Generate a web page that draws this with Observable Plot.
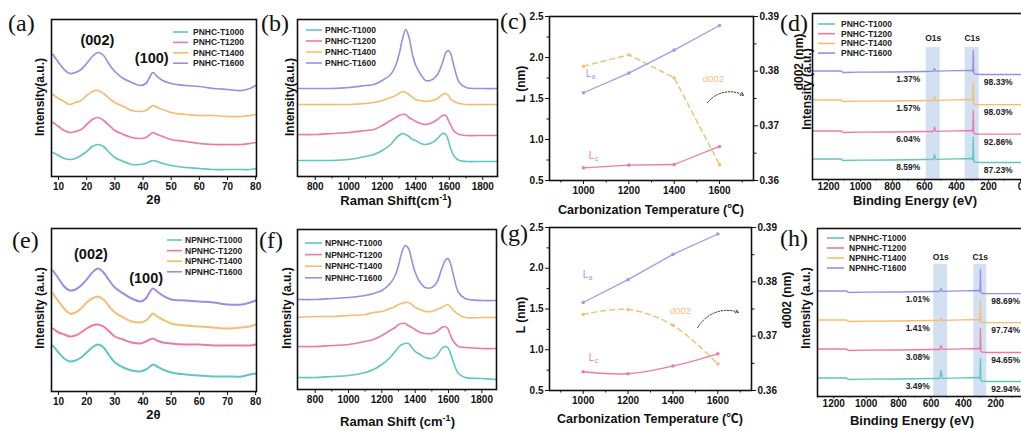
<!DOCTYPE html>
<html><head><meta charset="utf-8">
<script src="https://cdn.jsdelivr.net/npm/d3@7"></script>
<script src="https://cdn.jsdelivr.net/npm/@observablehq/plot@0.6"></script>
<style>
html,body{margin:0;padding:0;background:#fff;}
#fig{position:relative;width:1021px;height:431px;overflow:hidden;background:#fff;}
#fig svg{position:absolute;}
</style></head><body><div id="fig"></div>
<script>
// ---------------- DATA ----------------
const pLabels = ["PNHC-T1000","PNHC-T1200","PNHC-T1400","PNHC-T1600"];
const nLabels = ["NPNHC-T1000","NPNHC-T1200","NPNHC-T1400","NPNHC-T1600"];

// XRD (2θ) — stacked intensities (a.u.)
const xrdX = [8,10,12,14,16,18,20,22,24,26,28,30,33,36,39,41,42.5,43.5,45,47,50,55,60,65,70,75,78,80];
const aT1000 = [24,21,18,17,18,21,25,30,32,30,24,19,15,12,12,13,15,16,15,13,11,9,8,7,7,7,7,8];
const aT1200 = [54,50,46,44,45,47,52,57,59,56,51,46,42,39,38,39,42,44,42,40,37,35,33,32,32,32,33,34];
const aT1400 = [82,78,75,72,74,76,81,85,86,83,78,74,70,66,65,66,69,71,69,67,64,62,61,61,60,60,61,62];
const aT1600 = [122,114,107,103,104,107,113,120,124,121,112,105,98,94,91,93,100,104,100,96,93,91,90,88,87,86,88,91];
const eT1000 = [46,39,33,30,31,34,39,44,47,44,36,29,24,21,20,22,25,27,25,22,19,17,16,15,15,15,17,18];
const eT1200 = [63,59,57,55,56,59,63,66,67,65,60,55,52,49,48,50,52,53,51,49,48,47,47,46,46,46,46,47];
const eT1400 = [98,90,83,78,79,83,89,93,95,92,85,79,74,70,69,71,75,78,75,72,68,66,65,64,63,64,65,67];
const eT1600 = [121,113,105,101,102,106,112,119,123,119,111,104,98,93,90,93,100,103,100,96,92,91,90,89,87,87,89,91];
const xrdTicks = [10,20,30,40,50,60,70,80];

// Raman — stacked intensities (a.u.)
const ramX = [695,800,900,1000,1100,1150,1200,1250,1280,1300,1320,1340,1360,1380,1400,1430,1460,1500,1530,1560,1580,1595,1610,1630,1660,1700,1800,1890];
const bT1000 = [16,16,16,17,20,22,26,32,38,41,43,42,40,37,36,33,32,34,38,43,42,36,27,20,16,15,15,15];
const bT1200 = [42,42,43,44,46,47,51,56,59,61,62,62,59,57,55,53,52,54,57,61,61,56,51,45,42,41,41,41];
const bT1400 = [72,72,72,72,73,74,76,79,81,83,85,84,82,79,77,76,75,76,78,82,83,81,77,75,73,72,72,72];
const bT1600 = [88,88,88,89,91,92,96,102,111,122,137,147,139,122,111,102,96,97,102,114,124,126,122,109,94,89,88,88];
const fT1000 = [12,12,13,14,17,20,25,32,38,42,45,46,46,42,38,35,32,31,34,41,43,42,37,27,16,12,11,10];
const fT1200 = [43,43,44,45,48,50,54,59,62,65,66,66,64,62,60,57,56,56,58,62,63,61,55,48,43,42,41,41];
const fT1400 = [72,73,73,74,75,77,78,81,83,85,86,87,87,85,82,80,78,78,80,82,84,85,83,79,75,72,72,72];
const fT1600 = [90,90,91,92,94,96,99,106,114,124,137,144,141,129,117,107,102,102,107,121,129,131,127,114,97,91,89,89];
const ramTicks = [800,1000,1200,1400,1600,1800];

// Crystallite size / d002
const temps = [1000,1200,1400,1600];
const cLa = [1.57,1.81,2.09,2.39];
const cLc = [0.655,0.687,0.695,0.915];
const cD002 = [0.3809,0.3830,0.3788,0.3629];
const gLa = [1.58,1.86,2.17,2.42];
const gLc = [0.73,0.705,0.80,0.95];
const gD002 = [0.3740,0.3749,0.3720,0.3649];
const lTicks = [0.5,1.0,1.5,2.0,2.5];
const dTicks = [0.36,0.37,0.38,0.39];

// XPS survey — stacked intensities (a.u.)
const xpsX = [1300,1120,1110,1000,800,600,545,538,530,400,305,298,295,292,285,250,150,0,-30];
const dT1000 = [20.5,20.5,19,19.3,19.5,20,20,25,20.2,20.6,21,20,42,18,17.3,17,17,17,17];
const dT1200 = [48.5,48.5,47,47.3,47.5,48,48,52.5,48.2,48.6,49,48,69,46,45.5,45.3,45.3,45.3,45.3];
const dT1400 = [79.5,79.5,78,78.3,78.5,79,79,83,79.2,79.6,80,79,97,76,75,74.8,74.8,74.8,74.8];
const dT1600 = [108.5,108.5,107,107.3,107.5,108,108.2,111,108.3,108.8,109.2,108,129,106.5,105.5,105,105,105,105];
const hT1000 = [18.5,18.5,17,17.3,17.5,18,18,26,18.2,18.6,19,18,38,16,15.3,15,15,15,15];
const hT1200 = [47.5,47.5,46,46.3,46.5,47,47,51,47.2,47.6,48,47,68,45,44.3,44,44,44,44];
const hT1400 = [76.5,76.5,75,75.3,75.5,76,76,78,76.2,76.6,77,76,96,74.5,74,73.8,73.8,73.8,73.8];
const hT1600 = [105.5,105.5,104,104.3,104.5,105,105,108,105.2,105.6,106,105,127,103.5,103,102.8,102.8,102.8,102.8];
const dO1s = ["8.59%","6.04%","1.57%","1.37%"];
const dC1s = ["87.23%","92.86%","98.03%","98.33%"];
const hO1s = ["3.49%","3.08%","1.41%","1.01%"];
const hC1s = ["92.94%","94.65%","97.74%","98.69%"];
const dBands = [[589,502,"O1s"],[346,258,"C1s"]];
const hBands = [[583,497,"O1s"],[336,256,"C1s"]];
const xpsTicks = [1200,1000,800,600,400,200,0];
const xpsMinor = [1300,1100,900,700,500,300,100];

// ---------------- DRAWING ----------------
const SANS = "'Liberation Sans', Arial, Helvetica, sans-serif";
const SERIF = "'Liberation Serif', 'Times New Roman', serif";
const COLORS = ["#5fc6c0","#ee79a5","#f6bd70","#9a8de2"];
const fig = document.getElementById("fig");
const rows = (xs, ys) => xs.map((x, i) => ({x, y: ys[i]}));
const noLab = () => "";

function place(fx0, fy0, fx1, fy1, m, opts) {
  const [mt, mr, mb, ml] = m;
  const svg = Plot.plot({
    width: ml + fx1 - fx0 + mr, height: mt + fy1 - fy0 + mb,
    marginTop: mt, marginRight: mr, marginBottom: mb, marginLeft: ml,
    style: {fontFamily: SANS, fontSize: "10px", fontWeight: "bold", color: "#111", background: "transparent", overflow: "visible"},
    ...opts
  });
  svg.style.left = (fx0 - ml) + "px";
  svg.style.top = (fy0 - mt) + "px";
  svg.style.maxWidth = "none";
  fig.appendChild(svg);
}
const frame = () => Plot.frame({stroke: "#111", strokeWidth: 1.6});

function xrdPanel(box, yMax, series, peaks, sw) {
  place(...box, [4, 6, 24, 6], {
    x: {domain: [7.5, 80.3]},
    y: {domain: [0, yMax], axis: null},
    marks: [
      ...series.map((s, i) => Plot.line(rows(xrdX, s), {x: "x", y: "y", stroke: COLORS[i], strokeWidth: sw, curve: "catmull-rom", clip: true})),
      Plot.text(peaks, {x: "x", y: "y", text: "t", fontSize: 14.5, fontWeight: "bold", fill: "#111"}),
      Plot.axisX({ticks: xrdTicks, tickSize: 4, tickPadding: 2, tickFormat: d3.format("d"), label: null}),
      frame()
    ]
  });
}
function ramPanel(box, yMax, series) {
  place(...box, [4, 6, 24, 6], {
    x: {domain: [694, 1888]},
    y: {domain: [0, yMax], axis: null},
    marks: [
      ...series.map((s, i) => Plot.line(rows(ramX, s), {x: "x", y: "y", stroke: COLORS[i], strokeWidth: 1.6, curve: "catmull-rom", clip: true})),
      Plot.axisX({ticks: ramTicks, tickSize: 4, tickPadding: 2, tickFormat: d3.format("d"), label: null}),
      Plot.axisX({ticks: [900,1100,1300,1500,1700], tickSize: 2.5, tickFormat: noLab, label: null}),
      frame()
    ]
  });
}
const toLeft = d => 0.5 + (d - 0.36) / 0.03 * 2;
const fromLeft = v => 0.36 + (v - 0.5) / 2 * 0.03;
function lPanel(box, La, Lc, D, smooth, ann) {
  const cv = smooth ? "catmull-rom" : "linear";
  const purple = "#a39be6", pink = "#ef7ba6", orange = "#f5c07e";
  place(...box, [4, 34, 26, 34], {
    x: {domain: [850, 1750]},
    y: {domain: [0.5, 2.5]},
    marks: [
      Plot.line(rows(temps, D.map(toLeft)), {x: "x", y: "y", stroke: orange, strokeWidth: 1.5, strokeDasharray: "5,4", curve: cv}),
      Plot.dot(rows(temps, D.map(toLeft)), {x: "x", y: "y", r: 1.8, fill: orange}),
      Plot.line(rows(temps, La), {x: "x", y: "y", stroke: purple, strokeWidth: 1.3}),
      Plot.dot(rows(temps, La), {x: "x", y: "y", r: 1.8, fill: purple}),
      Plot.line(rows(temps, Lc), {x: "x", y: "y", stroke: pink, strokeWidth: 1.3, curve: cv}),
      Plot.dot(rows(temps, Lc), {x: "x", y: "y", r: 1.8, fill: pink}),
      Plot.text([ann.la], {x: "x", y: "y", text: () => "L", fontSize: 10, fontWeight: "normal", fill: purple}),
      Plot.text([ann.la], {x: "x", y: "y", text: () => "a", fontSize: 7, fontWeight: "normal", fill: purple, dx: 5, dy: 3}),
      Plot.text([ann.lc], {x: "x", y: "y", text: () => "L", fontSize: 10, fontWeight: "normal", fill: pink}),
      Plot.text([ann.lc], {x: "x", y: "y", text: () => "c", fontSize: 7, fontWeight: "normal", fill: pink, dx: 5, dy: 3}),
      Plot.text([ann.d], {x: "x", y: "y", text: () => "d002", fontSize: 9.5, fontWeight: "normal", fill: orange}),
      Plot.arrow([ann.arrow], {x1: "x1", y1: "y1", x2: "x2", y2: "y2", bend: 40, stroke: "#333", strokeWidth: 1, strokeDasharray: "1.5,1.5", headLength: 5}),
      Plot.axisX({ticks: temps, tickSize: 4, tickPadding: 2, tickFormat: d3.format("d"), label: null}),
      Plot.axisX({ticks: [900,1100,1300,1500,1700], tickSize: 2.5, tickFormat: noLab, label: null}),
      Plot.axisY({ticks: lTicks, tickSize: 4, tickPadding: 2, tickFormat: d3.format(".1f"), label: null}),
      Plot.axisY({ticks: [0.75,1.25,1.75,2.25], tickSize: 2.5, tickFormat: noLab, label: null}),
      Plot.axisY({anchor: "right", ticks: dTicks.map(toLeft), tickSize: 4, tickPadding: 2, tickFormat: v => fromLeft(v).toFixed(2), label: null}),
      Plot.axisY({anchor: "right", ticks: [0.365,0.375,0.385].map(toLeft), tickSize: 2.5, tickFormat: noLab, label: null}),
      frame()
    ]
  });
}
function xpsPanel(box, dom, yMax, series, bands, bandTop, lblY, pO, pC, xO, xC) {
  const i600 = xpsX.indexOf(600), iEnd = xpsX.length - 1;
  const labO = series.map((s, i) => ({x: xO, y: s[i600] - 7.5, t: pO[i]}));
  const labC = series.map((s, i) => ({x: xC, y: s[iEnd] - 8, t: pC[i]}));
  const bandRows = bands.map(b => ({x1: b[0], x2: b[1], y1: 0, y2: bandTop, name: b[2], xm: (b[0] + b[1]) / 2, yl: lblY}));
  place(...box, [4, 4, 24, 6], {
    x: {domain: dom},
    y: {domain: [0, yMax], axis: null},
    marks: [
      Plot.rect(bandRows, {x1: "x1", x2: "x2", y1: "y1", y2: "y2", fill: "#cadcf0", fillOpacity: 0.85}),
      Plot.text(bandRows, {x: "xm", y: "yl", text: "name", fontSize: 8.5, fontWeight: "bold", fill: "#222"}),
      ...series.map((s, i) => Plot.line(rows(xpsX, s), {x: "x", y: "y", stroke: COLORS[i], strokeWidth: 1.3, clip: true})),
      Plot.text(labO, {x: "x", y: "y", text: "t", fontSize: 8.5, fontWeight: "bold", fill: "#222"}),
      Plot.text(labC, {x: "x", y: "y", text: "t", fontSize: 8.5, fontWeight: "bold", fill: "#222"}),
      Plot.axisX({ticks: xpsTicks, tickSize: 2.5, tickPadding: 0.5, tickFormat: d3.format("d"), label: null}),
      Plot.axisX({ticks: xpsMinor, tickSize: 1.5, tickFormat: noLab, label: null}),
      frame()
    ]
  });
}

// Row 1
xrdPanel([51, 19, 256, 176], 157, [aT1000, aT1200, aT1400, aT1600],
  [{t: "(002)", x: 23.8, y: 136}, {t: "(100)", x: 43.1, y: 118}], 1.7);
ramPanel([297, 19, 497, 176], 157, [bT1000, bT1200, bT1400, bT1600]);
lPanel([549, 16, 753, 180], cLa, cLc, cD002, false,
  {la: {x: 1022, y: 1.80}, lc: {x: 1035, y: 0.80}, d: {x: 1573, y: 1.74},
   arrow: {x1: 1547, y1: 1.45, x2: 1706, y2: 1.54}});
xpsPanel([812, 13, 1024, 179], [1300, -25], 166, [dT1000, dT1200, dT1400, dT1600], dBands, 132, 141, dO1s, dC1s, 702, 139);
// Row 2
xrdPanel([51, 228, 256, 391], 163, [eT1000, eT1200, eT1400, eT1600],
  [{t: "(002)", x: 21.5, y: 137}, {t: "(100)", x: 41.1, y: 113}], 2);
ramPanel([297, 229, 496, 389], 160, [fT1000, fT1200, fT1400, fT1600]);
lPanel([549, 227, 751, 390], gLa, gLc, gD002, true,
  {la: {x: 1010, y: 1.92}, lc: {x: 1037, y: 0.905}, d: {x: 1434, y: 1.48},
   arrow: {x1: 1510, y1: 1.27, x2: 1692, y2: 1.46}});
xpsPanel([817, 228, 1031, 396], [1300, -20], 168, [hT1000, hT1200, hT1400, hT1600], hBands, 132, 139, hO1s, hC1s, 682, 139);

// ---------------- TEXT OVERLAY ----------------
const ov = d3.select(fig).append("svg").attr("width", 1021).attr("height", 431)
  .style("left", "0px").style("top", "0px").style("pointer-events", "none");
function txt(x, y, s, o = {}) {
  const t = ov.append("text").attr("x", x).attr("y", y)
    .attr("font-family", o.family || SANS).attr("font-size", o.size || 12)
    .attr("font-weight", o.weight || "bold").attr("text-anchor", o.anchor || "middle")
    .attr("fill", o.fill || "#111");
  if (o.rotate) t.attr("transform", `rotate(-90 ${x} ${y})`).attr("dominant-baseline", "central");
  if (o.central) t.attr("dominant-baseline", "central");
  if (s) t.text(s);
  return t;
}
// panel letters
[["(a)", 8, 31], ["(b)", 261, 31], ["(c)", 500, 29], ["(d)", 780, 31],
 ["(e)", 12, 248], ["(f)", 259, 248], ["(g)", 500, 241], ["(h)", 780, 246]]
  .forEach(([s, x, y]) => txt(x, y, s, {family: SERIF, size: 24, weight: "normal", anchor: "start"}));
// x titles
txt(153.5, 204, "2θ", {size: 13});
txt(153.5, 419, "2θ", {size: 13});
function raman(x, y, s) {
  const t = txt(x, y, null, {size: 13});
  t.append("tspan").text(s);
  t.append("tspan").attr("dy", -5).attr("font-size", 9).text("-1");
  t.append("tspan").attr("dy", 5).text(")");
}
raman(396, 205, "Raman Shift(cm");
raman(397.5, 426, "Raman Shift (cm");
const CT = "Carbonization Temperature (℃)";
txt(651, 213.5, CT, {size: 12.5, family: SANS + ", 'Noto Sans CJK SC'"});
txt(650, 423, CT, {size: 12.5, family: SANS + ", 'Noto Sans CJK SC'"});
txt(915, 204.5, "Binding Energy (eV)", {size: 13});
txt(912, 424.5, "Binding Energy (eV)", {size: 13});
// y titles
txt(39.5, 97, "Intensity(a.u.)", {size: 12, rotate: true});
txt(289.5, 97, "Intensity(a.u.)", {size: 12, rotate: true});
txt(521, 84, "L (nm)", {size: 12, rotate: true});
txt(799, 62, "d002 (nm)", {size: 12, rotate: true});
txt(807, 89, "Intensity (a.u.)", {size: 12, rotate: true});
txt(39.5, 308, "Intensity (a.u.)", {size: 12, rotate: true});
txt(287, 308, "Intensity (a.u.)", {size: 12, rotate: true});
txt(521, 315, "L (nm)", {size: 12, rotate: true});
txt(787, 300, "d002 (nm)", {size: 12, rotate: true});
txt(806, 308, "Intensity (a.u.)", {size: 12, rotate: true});
// legends
function legend(x0, x1, xt, y0, step, labels) {
  labels.forEach((l, i) => {
    const y = y0 + i * step;
    ov.append("line").attr("x1", x0).attr("x2", x1).attr("y1", y).attr("y2", y)
      .attr("stroke", COLORS[i]).attr("stroke-width", 1.6);
    txt(xt, y, l, {size: 8.5, anchor: "start", central: true, fill: "#222"});
  });
}
legend(173, 188, 193, 32, 10.4, pLabels);
legend(306, 322, 325, 30, 11, pLabels);
legend(818, 835, 841, 24, 9.7, pLabels);
legend(167, 182, 185, 240, 10.6, nLabels);
legend(305, 322, 325, 243, 11.6, nLabels);
legend(827, 844, 849, 238, 10, nLabels);
</script></body></html>
